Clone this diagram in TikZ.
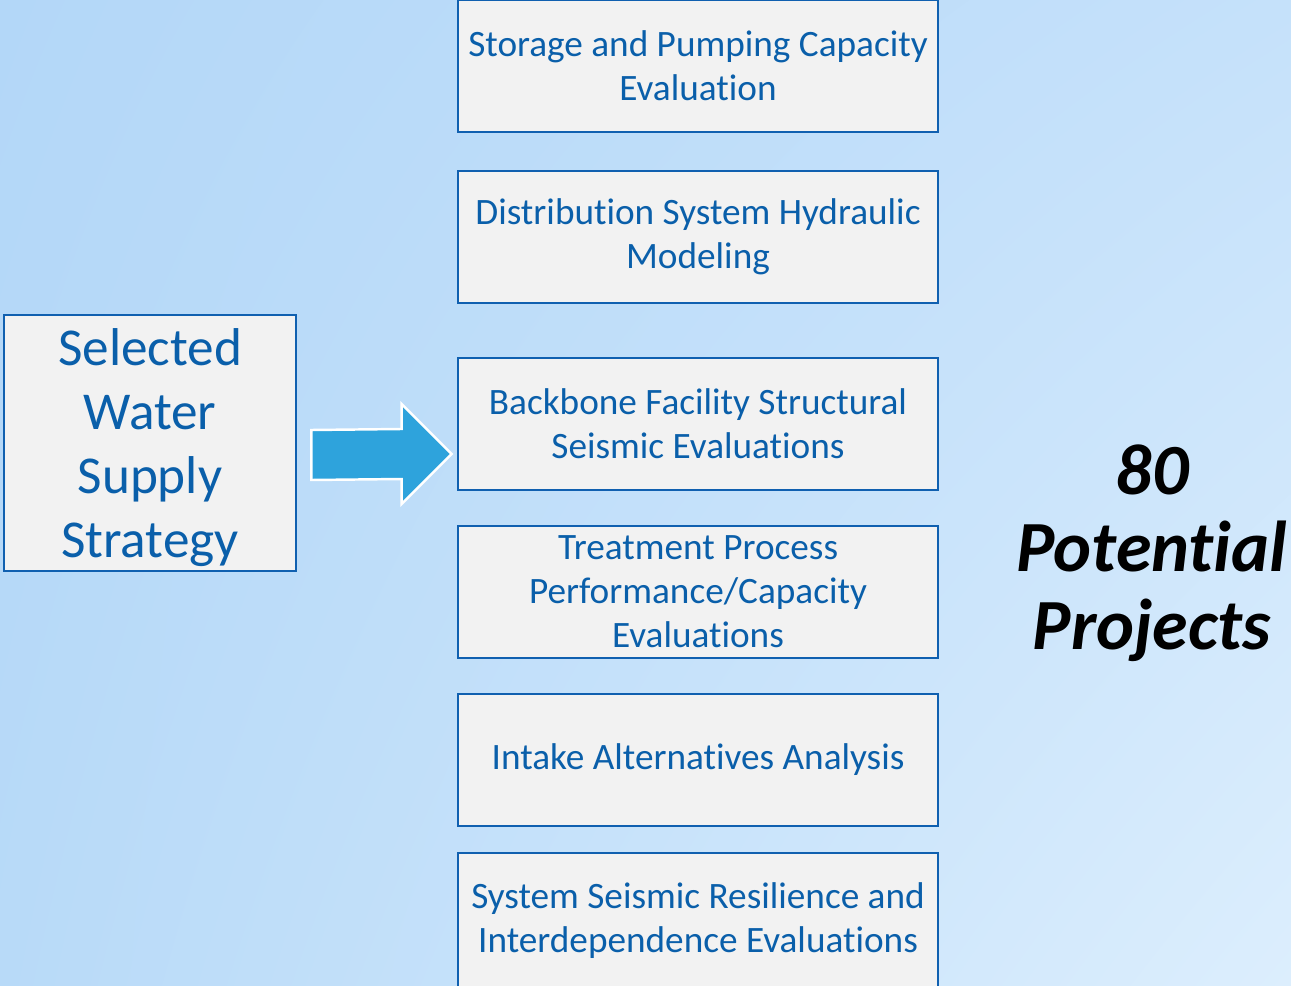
\documentclass[tikz,border=0pt]{standalone}
\usepackage{fontspec}
\setmainfont{Carlito}[Ligatures=NoCommon]
\usepackage{tikz}
\usetikzlibrary{calc,shadings}
\definecolor{boxline}{HTML}{1060B0}
\definecolor{boxtext}{HTML}{0A5FAA}
\definecolor{boxfill}{HTML}{F2F2F2}
\definecolor{arrowblue}{HTML}{2EA3DC}
\definecolor{skyNW}{HTML}{B3D7F8}
\definecolor{skyNE}{HTML}{C5E1FA}
\definecolor{skySW}{HTML}{B8DAF8}
\definecolor{skySE}{HTML}{DCEEFD}

\begin{document}
\begin{tikzpicture}[
  x=0.02cm, y=-0.02cm,
  task/.style={draw=boxline,line width=1.6pt,fill=boxfill,align=center,text=boxtext,
    minimum width=9.6cm,minimum height=2.64cm,font=\fontsize{21.2}{25}\selectfont},
  lead/.style={draw=boxline,line width=1.6pt,fill=boxfill,align=center,text=boxtext,
    minimum width=5.84cm,minimum height=5.12cm,text depth=0pt,font=\fontsize{30.3}{36.5}\selectfont},
  bigarrow/.style={fill=arrowblue,draw=white,line width=1.4pt,line join=miter}
]
% background
\shade[upper left=skyNW, upper right=skyNE, lower left=skySW, lower right=skySE]
  (0,0) rectangle (1291,986);
\useasboundingbox (0,0) rectangle (1291,986);

\node[lead] (strategy) at (150,443) {Selected\\Water\\Supply\\Strategy};

\node[task] (storage) at (698,66) {Storage and Pumping Capacity\\Evaluation};
\node[task] (hydraulic) at (698,237) {Distribution System Hydraulic\\Modeling};
\node[task] (backbone) at (698,424) {Backbone Facility Structural\\Seismic Evaluations};
\node[task] (treatment) at (698,592) {Treatment Process\\Performance/Capacity\\Evaluations};
\node[task] (intake) at (698,760) {Intake Alternatives Analysis};
\node[task,minimum height=2.72cm] (resilience) at (698,921) {System Seismic Resilience and\\Interdependence Evaluations};

\node[font=\fontsize{41}{44}\selectfont\bfseries\itshape,align=center] (total) at (1152,553)
  {80\\Potential\\Projects};

% block arrow into the evaluations
\coordinate (tail) at ($(strategy.east)+(14,12)$);
\coordinate (tip) at ($(backbone.west)+(-5,30)$);
\draw[bigarrow] ($(tail)+(0,-25)$) -- ($(tip)+(-50,-25)$) -- ($(tip)+(-50,-50)$)
  -- (tip) -- ($(tip)+(-50,50)$) -- ($(tip)+(-50,25)$) -- ($(tail)+(0,25)$) -- cycle;
\end{tikzpicture}
\end{document}
